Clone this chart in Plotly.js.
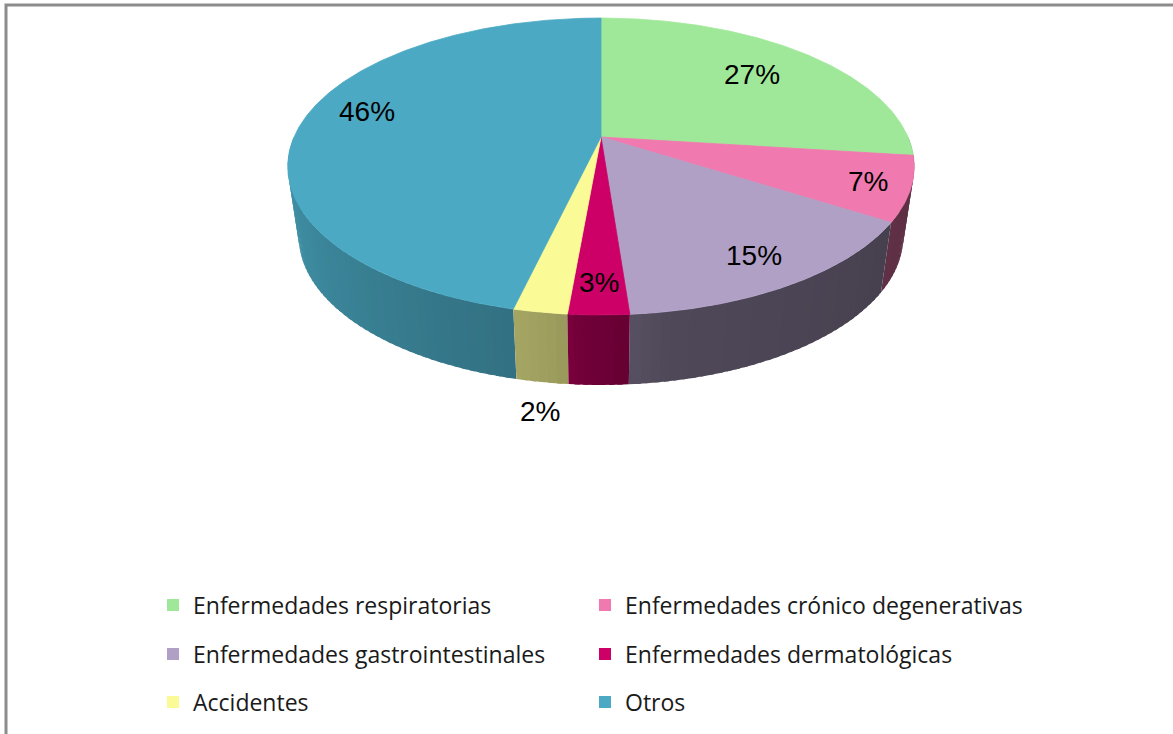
<!DOCTYPE html>
<html>
<head>
<meta charset="utf-8">
<script src="https://cdn.plot.ly/plotly-3.0.1.min.js"></script>
<style>html,body{margin:0;padding:0;background:#fff;}#chart{width:1173px;height:734px;}</style>
</head>
<body>
<div id="chart"></div>
<script>
// ---- data ----
const categories = [
  'Enfermedades respiratorias',
  'Enfermedades crónico degenerativas',
  'Enfermedades gastrointestinales',
  'Enfermedades dermatológicas',
  'Accidentes',
  'Otros'
];
const values = [27.0, 7.0, 14.8, 2.6, 2.3, 46.3];
const colors = ['#A0E899', '#F07AAF', '#B0A0C5', '#CC0066', '#FAFA96', '#4BA9C3'];
const legendIds = ['legend', 'legend2', 'legend3', 'legend4', 'legend5', 'legend6'];

// ---- style / geometry parameters ----
const CX = 601, CY = 137, A = 307, B = 142.6, C = 0.1987;
const DEPTH = 70, BOTTOM_SCALE = 0.965;
const labelR = [0.72, 0.87, 0.83, 0.85, 1.0, 0.78];
const labelOutside = [false, false, false, false, true, false];
const labelDy = [0, 0, 0, 0, 29, -13];
const shadeTable = [[90,0.38],[125,0.40],[170,0.45],[176,0.50],[182,0.55],[186,0.62],[194,0.67],[260,0.87],[270,0.87]];
const legendColX = [153, 585];
const legendRowY = [605, 654, 702];

function proj(r, phiDeg, bottom) {
  const p = phiDeg * Math.PI / 180;
  const u = r * Math.sin(p), v = r * Math.cos(p);
  const d = 1 + C * v;
  let x = CX + A * u / d, y = CY - B * v / d;
  if (bottom) { x = CX + (x - CX) * BOTTOM_SCALE; y += DEPTH; }
  return [x, y];
}
function shade(phi) {
  for (let i = 0; i < shadeTable.length - 1; i++) {
    const [a, fa] = shadeTable[i], [b, fb] = shadeTable[i + 1];
    if (phi >= a && phi <= b) return fa + (fb - fa) * (phi - a) / (b - a);
  }
  return 0.4;
}
function darken(hex, f) {
  const n = parseInt(hex.slice(1), 16);
  const r = Math.round(((n >> 16) & 255) * f), g = Math.round(((n >> 8) & 255) * f), b = Math.round((n & 255) * f);
  return `rgb(${r},${g},${b})`;
}

const total = values.reduce((s, v) => s + v, 0);
const starts = [], ends = [];
let acc = 0;
values.forEach(v => { starts.push(acc / total * 360); acc += v; ends.push(acc / total * 360); });

const traces = [];
// side strips (front half only), painter's order: far first
const strips = [];
values.forEach((v, i) => {
  const s = Math.max(starts[i], 90), e = Math.min(ends[i], 270);
  if (e <= s) return;
  const n = Math.max(1, Math.ceil((e - s) / 1.5));
  for (let k = 0; k < n; k++) {
    const a = s + (e - s) * k / n, b = s + (e - s) * (k + 1) / n;
    strips.push({ i, a: Math.max(s, a - 0.4), b: Math.min(e, b + 0.4), mid: (a + b) / 2 });
  }
});
strips.sort((p, q) => Math.abs(q.mid - 180) - Math.abs(p.mid - 180));
strips.forEach(st => {
  const xs = [], ys = [];
  const steps = 3;
  for (let k = 0; k <= steps; k++) { const [x, y] = proj(1, st.a + (st.b - st.a) * k / steps, false); xs.push(x); ys.push(y); }
  for (let k = steps; k >= 0; k--) { const [x, y] = proj(1, st.a + (st.b - st.a) * k / steps, true); xs.push(x); ys.push(y); }
  const col = darken(colors[st.i], shade(st.mid));
  traces.push({ type: 'scatter', x: xs, y: ys, mode: 'lines', fill: 'toself', fillcolor: col,
    line: { color: col, width: 0 }, hoverinfo: 'skip', showlegend: false });
});
// top faces
values.forEach((v, i) => {
  const xs = [CX], ys = [CY];
  const n = Math.max(4, Math.ceil((ends[i] - starts[i]) / 0.5));
  for (let k = 0; k <= n; k++) { const [x, y] = proj(1, starts[i] + (ends[i] - starts[i]) * k / n, false); xs.push(x); ys.push(y); }
  xs.push(CX); ys.push(CY);
  traces.push({ type: 'scatter', x: xs, y: ys, mode: 'lines', fill: 'toself', fillcolor: colors[i],
    line: { color: colors[i], width: 0.8 }, hoverinfo: 'skip', showlegend: false });
});
// legend entries
categories.forEach((c, i) => {
  traces.push({ type: 'scatter', x: [null], y: [null], mode: 'markers', name: c,
    marker: { symbol: 'square', size: 12, color: colors[i] }, legend: legendIds[i], showlegend: true });
});

// percentage labels
const annotations = values.map((v, i) => {
  const mid = (starts[i] + ends[i]) / 2;
  let [x, y] = proj(labelR[i], mid, false);
  if (labelOutside[i]) y += DEPTH;
  y += labelDy[i];
  return { x, y, xref: 'x', yref: 'y', text: Math.round(v / total * 100) + '%', showarrow: false,
    font: { family: 'Liberation Sans, Arial, sans-serif', size: 28, color: '#000' } };
});

const W = 1173, H = 734;
const layout = {
  width: W, height: H,
  margin: { l: 0, r: 0, t: 0, b: 0 },
  paper_bgcolor: '#fff', plot_bgcolor: '#fff',
  xaxis: { range: [0, W], visible: false, fixedrange: true },
  yaxis: { range: [H, 0], visible: false, fixedrange: true },
  showlegend: true,
  annotations,
  shapes: [{ type: 'rect', xref: 'x', yref: 'y', x0: 6, y0: 5, x1: W + 20, y1: H + 20,
    line: { color: '#8C8C8C', width: 3 }, fillcolor: 'rgba(0,0,0,0)', layer: 'below' }]
};
legendIds.forEach((id, i) => {
  layout[id] = { orientation: 'h', xanchor: 'left', yanchor: 'middle',
    x: legendColX[i % 2] / W, y: 1 - legendRowY[Math.floor(i / 2)] / H,
    bgcolor: 'rgba(0,0,0,0)', borderwidth: 0,
    font: { family: 'Open Sans, sans-serif', size: 23, color: '#1a1a1a' } };
});

Plotly.newPlot('chart', traces, layout, { staticPlot: true, displayModeBar: false });
</script>
</body>
</html>
